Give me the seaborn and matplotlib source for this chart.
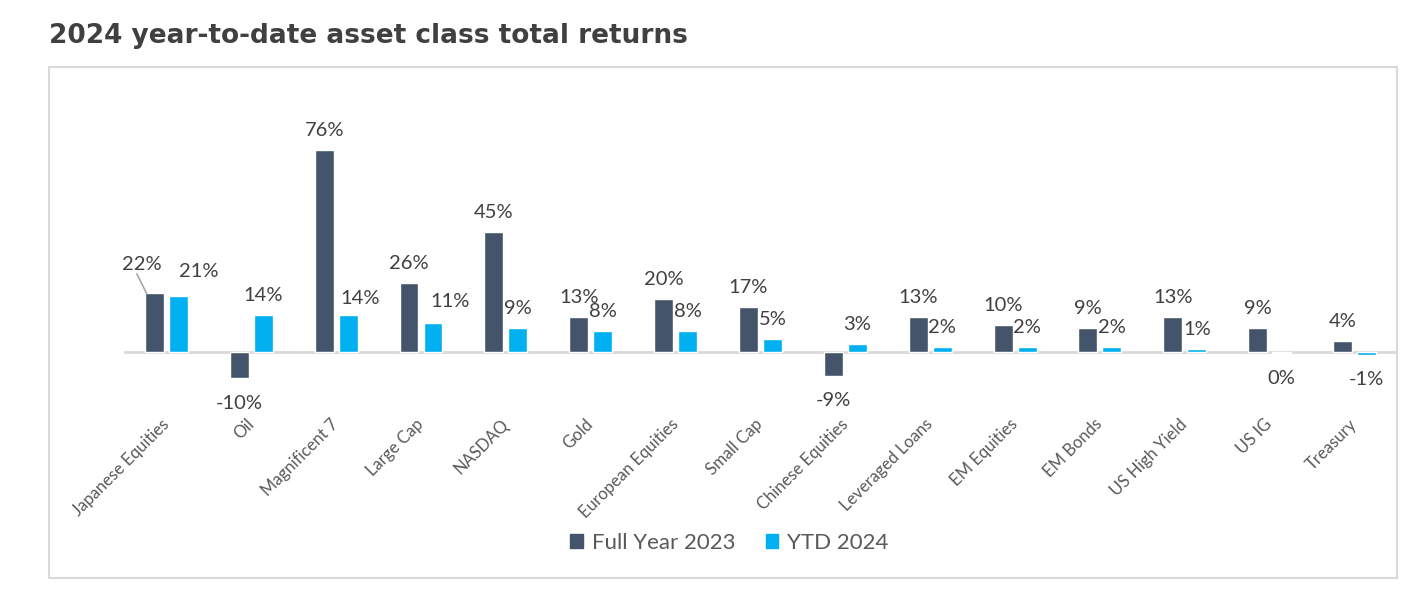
import pandas as pd
import seaborn as sns
import matplotlib.pyplot as plt
from matplotlib.patches import Rectangle

assets = ["Japanese Equities", "Oil", "Magnificent 7", "Large Cap", "NASDAQ", "Gold",
          "European Equities", "Small Cap", "Chinese Equities", "Leveraged Loans",
          "EM Equities", "EM Bonds", "US High Yield", "US IG", "Treasury"]
full_year_2023 = [22, -10, 76, 26, 45, 13, 20, 17, -9, 13, 10, 9, 13, 9, 4]
ytd_2024 = [21, 14, 14, 11, 9, 8, 8, 5, 3, 2, 2, 2, 1, -0.4, -1]
series_names = ["Full Year 2023", "YTD 2024"]

df = pd.DataFrame({
    "asset": assets * 2,
    "ret": full_year_2023 + ytd_2024,
    "series": [series_names[0]] * len(assets) + [series_names[1]] * len(assets),
})

sns.set_style("white")
plt.rcParams['font.family'] = ['Lato', 'DejaVu Sans']

fig = plt.figure(figsize=(14.25, 5.89), dpi=100)
ax = fig.add_axes([0.0870, 0.3124, 0.8933, 0.4737])

palette = {"Full Year 2023": "#44546A", "YTD 2024": "#00B0F0"}
sns.barplot(data=df, x="asset", y="ret", hue="series", palette=palette,
            width=0.566, gap=0.21, saturation=1, ax=ax, legend=False)

ax.set_ylim(-20, 85)
ax.set_xlim(-0.5, len(assets) - 0.5)
ax.axhline(0, color="#d9d9d9", lw=2, zorder=0.5)
for s in ax.spines.values():
    s.set_visible(False)
ax.set_yticks([])
ax.set_xlabel("")
ax.set_ylabel("")
ax.tick_params(axis="x", length=0, pad=12, labelsize=12, labelcolor="#595959")
for lab in ax.get_xticklabels():
    lab.set_rotation(45)
    lab.set_ha("right")
    lab.set_va("center")
    lab.set_rotation_mode("anchor")

# manual nudges for a few labels (points)
nudges = {
    (0, 0): (-9.4, 6.5),
    (1, 0): (15, 3.6),
    (1, 2): (8.6, -2),
    (1, 3): (12, 1.5),
}

for si, cont in enumerate(ax.containers):
    vals = full_year_2023 if si == 0 else ytd_2024
    for ci, bar in enumerate(cont):
        v = vals[ci]
        xc = bar.get_x() + bar.get_width() / 2
        dx, dy = nudges.get((si, ci), (0, 0))
        if v >= 0:
            ax.annotate(f"{round(v):.0f}%", (xc, v), xytext=(dx, 10 + dy),
                        textcoords="offset points", ha="center", va="baseline",
                        fontsize=14.5, color="#404040")
        else:
            ax.annotate(f"{round(v):.0f}%", (xc, v), xytext=(dx, -12 + dy),
                        textcoords="offset points", ha="center", va="top",
                        fontsize=14.5, color="#404040")

# leader line for the Japanese Equities 2023 label
b = ax.containers[0][0]
ax.annotate("", (b.get_x() + 0.02, full_year_2023[0]), xytext=(-7, 14),
            textcoords="offset points",
            arrowprops=dict(arrowstyle="-", color="#a6a6a6", lw=1.2, shrinkA=0, shrinkB=0))

# outer frame
fig.patches.append(Rectangle((49 / 1425, 1 - 578 / 589), (1397 - 49) / 1425, (578 - 67) / 589,
                             transform=fig.transFigure, fill=False, ec="#d9d9d9", lw=1.5))

fig.text(49 / 1425, 1 - 36 / 589, "2024 year-to-date asset class total returns",
         fontsize=19, fontweight="bold", color="#404040", ha="left", va="center",
         family="DejaVu Sans")

handles = [Rectangle((0, 0), 1, 1, color=palette[n]) for n in series_names]
fig.legend(handles, series_names, loc="center", bbox_to_anchor=(0.512, 1 - 543 / 589),
           ncol=2, frameon=False, fontsize=16, labelcolor="#595959",
           handlelength=0.55, handleheight=0.55, handletextpad=0.4, columnspacing=1.4)

fig.savefig("out.png", dpi=100)
